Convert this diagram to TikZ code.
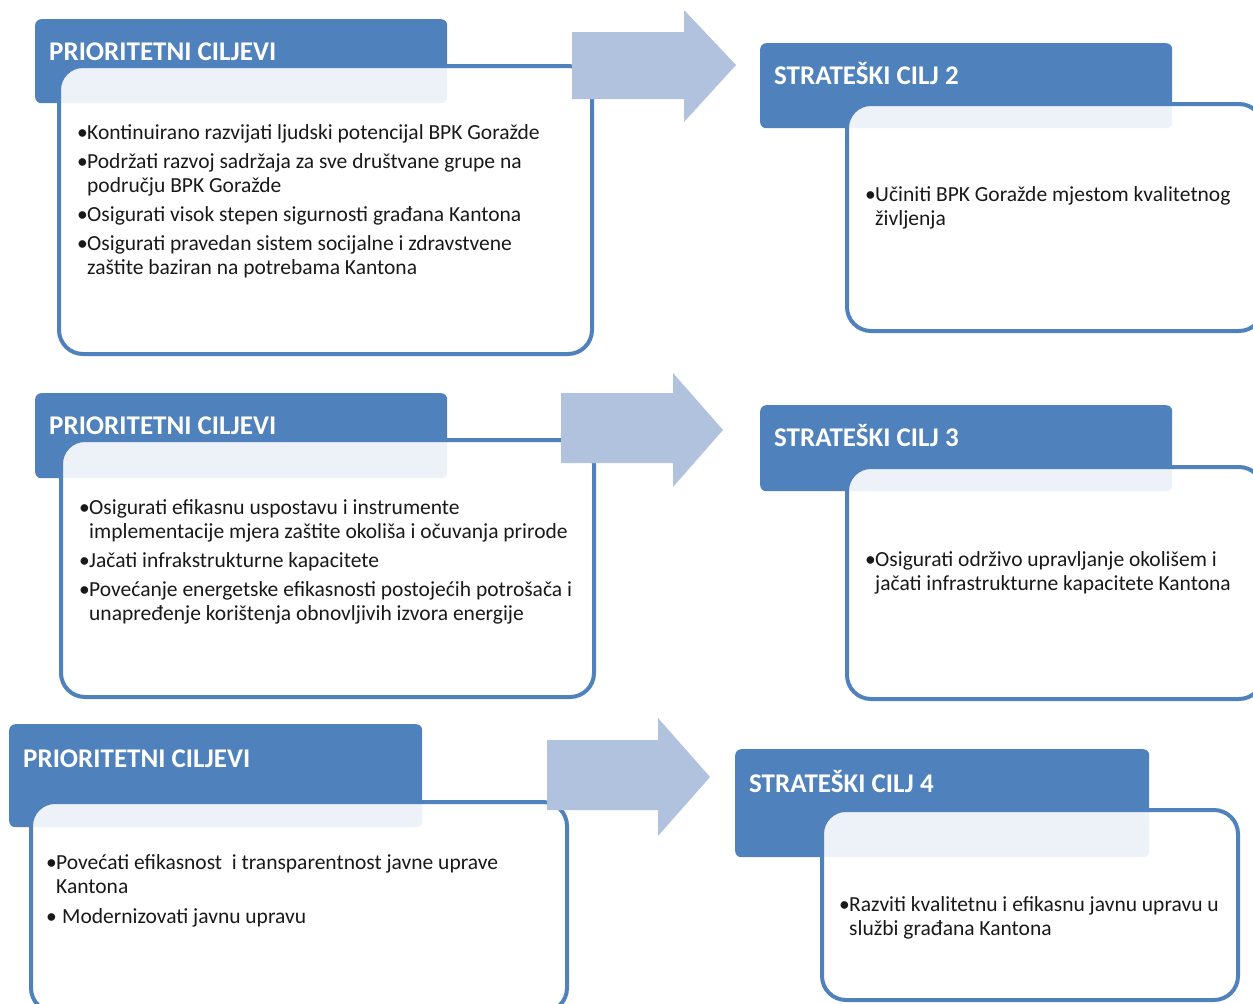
\documentclass[tikz,border=0pt]{standalone}
\usepackage{fontspec}
\setmainfont{Carlito}
\usepackage{tikz}
\usetikzlibrary{calc}
\definecolor{okvir}{RGB}{79,129,189}
\definecolor{strelica}{RGB}{176,194,222}
\newcommand{\tacka}{\makebox[10pt][l]{•}}
\newcommand{\uvuci}{\hspace*{10pt}}

\begin{document}
\begin{tikzpicture}[x=1pt, y=-1pt,
    glava/.style={fill=okvir, rounded corners=6pt, anchor=north west,
      inner sep=0pt, minimum width=412pt},
    tijelo/.style={draw=okvir, line width=4pt, fill=white, fill opacity=0.9,
      rounded corners=24pt, anchor=north west, inner sep=0pt},
    naslov/.style={font=\fontsize{27}{32}\selectfont\bfseries, text=white,
      anchor=base west, inner sep=0pt},
    tekst/.style={font=\fontsize{21.5}{24}\selectfont, text=black!90,
      align=left, anchor=base west, inner sep=0pt},
    blok/.style={fill=strelica},
  ]
  \path[use as bounding box, clip] (0,0) rectangle (1253,1004);

  % Prioritetni ciljevi -> strateski cilj 2
  \node[glava, minimum height=84pt] (g1) at (35,19) {};
  \node[tijelo, minimum width=533pt, minimum height=288pt] (t1) at (57,64) {};
  \node[naslov] (n1) at ($(g1.north west)+(14,41)$) {PRIORITETNI CILJEVI};
  \fill[blok] (572,32) -- (684,32) -- (684,10) -- (736,65)
    -- (684,122) -- (684,99) -- (572,99) -- cycle;
  \node[glava, minimum height=85pt] (g2) at (760,43) {};
  \node[tijelo, minimum width=416pt, minimum height=227pt] (t2) at (845,102) {};
  \node[naslov] (n2) at ($(g2.north west)+(14,41)$) {STRATEŠKI CILJ 2};

  % Prioritetni ciljevi -> strateski cilj 3
  \node[glava, minimum height=85pt] (g3) at (35,393) {};
  \node[tijelo, minimum width=533pt, minimum height=257pt] (t3) at (59,438) {};
  \node[naslov] (n3) at ($(g3.north west)+(14,41)$) {PRIORITETNI CILJEVI};
  \fill[blok] (561,393) -- (673,393) -- (673,373) -- (723,430)
    -- (673,487) -- (673,463) -- (561,463) -- cycle;
  \node[glava, minimum height=86pt] (g4) at (760,405) {};
  \node[tijelo, minimum width=416pt, minimum height=232pt] (t4) at (845,465) {};
  \node[naslov] (n4) at ($(g4.north west)+(14,41)$) {STRATEŠKI CILJ 3};

  % Prioritetni ciljevi -> strateski cilj 4
  \node[glava, minimum width=413pt, minimum height=103pt] (g5) at (9,724) {};
  \node[tijelo, minimum width=536pt, minimum height=210pt] (t5) at (29,800) {};
  \node[naslov] (n5) at ($(g5.north west)+(14,43)$) {PRIORITETNI CILJEVI};
  \fill[blok] (547,740) -- (658,740) -- (658,718) -- (710,777)
    -- (658,836) -- (658,810) -- (547,810) -- cycle;
  \node[glava, minimum width=414pt, minimum height=108pt] (g6) at (735,749) {};
  \node[tijelo, minimum width=416pt, minimum height=190pt] (t6) at (820,808) {};
  \node[naslov] (n6) at ($(g6.north west)+(14,43)$) {STRATEŠKI CILJ 4};

  % Tekstovi (base = zadnji red)
  \node[tekst] (s1) at (77,274) {%
    \tacka Kontinuirano razvijati ljudski potencijal BPK Goražde\\[5pt]
    \tacka Podržati razvoj sadržaja za sve društvane grupe na\\
    \uvuci području BPK Goražde\\[5pt]
    \tacka Osigurati visok stepen sigurnosti građana Kantona\\[5pt]
    \tacka Osigurati pravedan sistem socijalne i zdravstvene\\
    \uvuci zaštite baziran na potrebama Kantona};
  \node[tekst] (s2) at (865,225) {%
    \tacka Učiniti BPK Goražde mjestom kvalitetnog\\
    \uvuci življenja};
  \node[tekst] (s3) at (79,620) {%
    \tacka Osigurati efikasnu uspostavu i instrumente\\
    \uvuci implementacije mjera zaštite okoliša i očuvanja prirode\\[5pt]
    \tacka Jačati infrakstrukturne kapacitete\\[5pt]
    \tacka Povećanje energetske efikasnosti postojećih potrošača i\\
    \uvuci unapređenje korištenja obnovljivih izvora energije};
  \node[tekst] (s4) at (865,590) {%
    \tacka Osigurati održivo upravljanje okolišem i\\
    \uvuci jačati infrastrukturne kapacitete Kantona};
  \node[tekst] (s5) at (46,923) {%
    \tacka Povećati efikasnost\ \ i transparentnost javne uprave\\
    \uvuci Kantona\\[6pt]
    \tacka\hspace{6pt}Modernizovati javnu upravu};
  \node[tekst] (s6) at (839,935) {%
    \tacka Razviti kvalitetnu i efikasnu javnu upravu u\\
    \uvuci službi građana Kantona};
\end{tikzpicture}
\end{document}
